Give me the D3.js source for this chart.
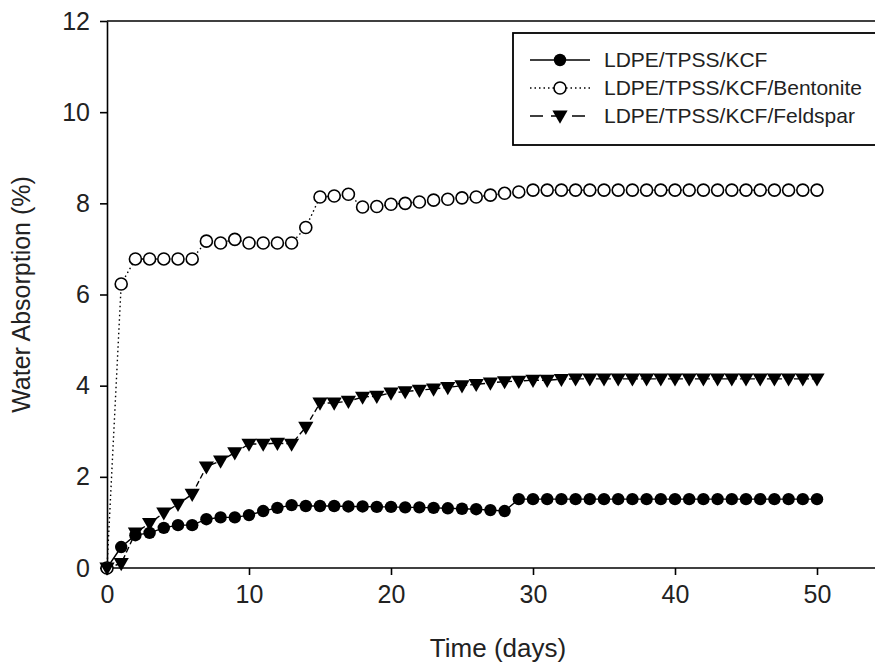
<!DOCTYPE html>
<html>
<head>
<meta charset="utf-8">
<script src="https://cdnjs.cloudflare.com/ajax/libs/d3/7.8.5/d3.min.js"></script>
<style>
  body { margin: 0; background: #fff; }
  svg { display: block; font-family: "Liberation Sans", Arial, sans-serif; }
  .axis path, .axis line { stroke: #000; stroke-width: 1.6; }
  .axis text { font-size: 25px; fill: #222; }
</style>
</head>
<body>
<div id="chart"></div>
<script>
var days = d3.range(0, 51);

var kcf = [0, 0.46, 0.72, 0.77, 0.88, 0.94, 0.94, 1.07, 1.11, 1.11,
    1.16, 1.25, 1.32, 1.38, 1.36, 1.36, 1.36, 1.35, 1.35, 1.34,
    1.34, 1.33, 1.33, 1.32, 1.31, 1.30, 1.29, 1.27, 1.25, 1.51,
    1.51, 1.51, 1.51, 1.51, 1.51, 1.51, 1.51, 1.51, 1.51, 1.51,
    1.51, 1.51, 1.51, 1.51, 1.51, 1.51, 1.51, 1.51, 1.51, 1.51, 1.51];

var bentonite = [0, 6.23, 6.78, 6.78, 6.78, 6.78, 6.78, 7.17, 7.13, 7.21,
    7.13, 7.13, 7.13, 7.13, 7.47, 8.14, 8.16, 8.20, 7.92, 7.93,
    7.98, 8.00, 8.03, 8.07, 8.09, 8.12, 8.14, 8.18, 8.22, 8.25,
    8.29, 8.29, 8.29, 8.29, 8.29, 8.29, 8.29, 8.29, 8.29, 8.29,
    8.29, 8.29, 8.29, 8.29, 8.29, 8.29, 8.29, 8.29, 8.29, 8.29, 8.29];

var feldspar = [0, 0.10, 0.77, 0.98, 1.21, 1.40, 1.62, 2.22, 2.35, 2.53,
    2.72, 2.72, 2.74, 2.72, 3.09, 3.62, 3.62, 3.66, 3.75, 3.77,
    3.84, 3.87, 3.90, 3.93, 3.96, 4.00, 4.03, 4.06, 4.09, 4.10,
    4.12, 4.12, 4.14, 4.15, 4.15, 4.15, 4.15, 4.15, 4.15, 4.15,
    4.15, 4.15, 4.15, 4.15, 4.15, 4.15, 4.15, 4.15, 4.15, 4.15, 4.15];

var seriesNames = ["LDPE/TPSS/KCF", "LDPE/TPSS/KCF/Bentonite", "LDPE/TPSS/KCF/Feldspar"];
var xTicks = [0, 10, 20, 30, 40, 50];
var yTicks = [0, 2, 4, 6, 8, 10, 12];

var width = 875, height = 665;
var plotLeft = 107, plotTop = 21, plotBottom = 568;

var x = d3.scaleLinear().domain([0, 50]).range([plotLeft, 817]);
var y = d3.scaleLinear().domain([0, 12]).range([plotBottom, plotTop]);

var svg = d3.select("#chart").append("svg")
    .attr("width", width)
    .attr("height", height);

// frame (the right side runs off the picture)
svg.append("line")
    .attr("x1", plotLeft).attr("x2", width + 10)
    .attr("y1", plotTop).attr("y2", plotTop)
    .attr("stroke", "#000").attr("stroke-width", 1.6);

svg.append("g")
    .attr("class", "axis")
    .attr("transform", "translate(0," + plotBottom + ")")
    .call(d3.axisBottom(x).tickValues(xTicks).tickSize(7).tickPadding(10).tickSizeOuter(0))
    .call(function(g) { g.select(".domain").attr("d", "M" + plotLeft + ",0H" + (width + 10)); });

svg.append("g")
    .attr("class", "axis")
    .attr("transform", "translate(" + plotLeft + ",0)")
    .call(d3.axisLeft(y).tickValues(yTicks).tickSize(7).tickPadding(10).tickSizeOuter(0));

svg.append("text")
    .attr("transform", "translate(30," + ((plotTop + plotBottom) / 2) + ") rotate(-90)")
    .attr("text-anchor", "middle")
    .attr("font-size", 25)
    .attr("fill", "#222")
    .text("Water Absorption (%)");

svg.append("text")
    .attr("x", 498)
    .attr("y", 657)
    .attr("text-anchor", "middle")
    .attr("font-size", 26)
    .attr("fill", "#222")
    .text("Time (days)");

var line = d3.line()
    .x(function(d, i) { return x(days[i]); })
    .y(function(d) { return y(d); });

var styles = [
    { data: kcf, dash: null, marker: "dot" },
    { data: bentonite, dash: "1.5,3", marker: "open" },
    { data: feldspar, dash: "6,3", marker: "tri" }
];

var triangle = d3.symbol().type(d3.symbolTriangle).size(100);

function addMarker(g, kind, cx, cy) {
    if (kind === "dot") {
        g.append("circle").attr("cx", cx).attr("cy", cy).attr("r", 6.2).attr("fill", "#000");
    } else if (kind === "open") {
        g.append("circle").attr("cx", cx).attr("cy", cy).attr("r", 6)
            .attr("fill", "#fff").attr("stroke", "#000").attr("stroke-width", 1.6);
    } else {
        g.append("path").attr("d", triangle)
            .attr("transform", "translate(" + cx + "," + (cy - 1) + ") rotate(180)")
            .attr("fill", "#000");
    }
}

styles.forEach(function(s) {
    svg.append("path")
        .datum(s.data)
        .attr("fill", "none")
        .attr("stroke", "#000")
        .attr("stroke-width", 1.4)
        .attr("stroke-dasharray", s.dash)
        .attr("d", line);
});

// markers drawn after the lines
styles.forEach(function(s) {
    var g = svg.append("g");
    s.data.forEach(function(v, i) { addMarker(g, s.marker, x(days[i]), y(v)); });
});

// legend
var legend = svg.append("g");
legend.append("rect")
    .attr("x", 513).attr("y", 33)
    .attr("width", 400).attr("height", 112)
    .attr("fill", "#fff").attr("stroke", "#000").attr("stroke-width", 1.8);

styles.forEach(function(s, i) {
    var ly = 60 + i * 28;
    legend.append("line")
        .attr("x1", 530).attr("x2", 590)
        .attr("y1", ly).attr("y2", ly)
        .attr("stroke", "#000").attr("stroke-width", 1.4)
        .attr("stroke-dasharray", s.marker === "tri" ? "13,8" : s.dash);
    addMarker(legend, s.marker, 560, ly);
    legend.append("text")
        .attr("x", 604).attr("y", ly + 7)
        .attr("font-size", 21)
        .attr("fill", "#222")
        .text(seriesNames[i]);
});
</script>
</body>
</html>
